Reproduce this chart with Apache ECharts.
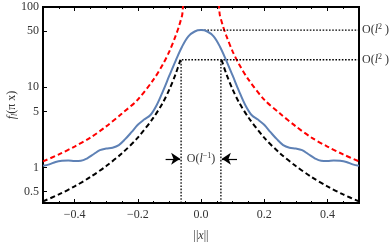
<!DOCTYPE html>
<html><head><meta charset="utf-8">
<script src="https://cdn.jsdelivr.net/npm/echarts@6/dist/echarts.min.js"></script>
<style>html,body{margin:0;padding:0;background:#fff}#c{width:390px;height:242px}</style>
</head><body><div id="c"></div>
<script>
// ---- data ----
const blueX = [-0.5,-0.48,-0.46,-0.44,-0.42,-0.40,-0.38,-0.36,-0.34,-0.32,-0.30,-0.28,-0.26,-0.24,-0.22,-0.20,-0.18,-0.16,-0.14,-0.12,-0.10,-0.08,-0.06,-0.04,-0.02,0,
  0.02,0.04,0.06,0.08,0.10,0.12,0.14,0.16,0.18,0.20,0.22,0.24,0.26,0.28,0.30,0.32,0.34,0.36,0.38,0.40,0.42,0.44,0.46,0.48,0.5];
const blueY = [1.05,1.09,1.17,1.21,1.22,1.2,1.21,1.3,1.46,1.64,1.72,1.76,1.9,2.25,2.75,3.4,3.95,4.5,6.0,9.0,14,21.5,32,43,49.5,51.5,
  49.5,43,32,21.5,14,9.0,6.0,4.5,3.95,3.4,2.75,2.25,1.9,1.76,1.72,1.64,1.46,1.3,1.21,1.2,1.22,1.21,1.17,1.09,1.05];
const redX = [-0.5,-0.45,-0.4,-0.35,-0.3,-0.25,-0.2,-0.15,-0.12,-0.1,-0.08,-0.07,-0.06,-0.05,
  0.05,0.06,0.07,0.08,0.1,0.12,0.15,0.2,0.25,0.3,0.35,0.4,0.45,0.5];
const redY = [1.19,1.45,1.82,2.35,3.25,4.7,7.0,12.5,19.5,28,44,57,78,112,
  112,78,57,44,28,19.5,12.5,7.0,4.7,3.25,2.35,1.82,1.45,1.19];
const blackLeftX = [-0.5,-0.45,-0.4,-0.35,-0.3,-0.25,-0.2,-0.15,-0.12,-0.1,-0.08,-0.065];
const blackLeftY = [0.377,0.46,0.58,0.76,1.04,1.5,2.35,4.2,6.5,9.4,14.7,22];
const blackRightX = [0.065,0.08,0.1,0.12,0.15,0.2,0.25,0.3,0.35,0.4,0.45,0.5];
const blackRightY = [22,14.7,9.4,6.5,4.2,2.35,1.5,1.04,0.76,0.58,0.46,0.377];
const peakLevel = 51.5;      // O(l^2) upper guide
const widthLevel = 22;       // O(l^2) lower guide
const widthHalf = 0.063;     // half width O(l^-1)
const arrowLevel = 1.28;
const arrowLeft = [-0.112, -0.066];
const arrowRight = [0.114, 0.066];
const xMin = -0.5, xMax = 0.5, yMin = 0.36, yMax = 100;
const xMajorTicks = [-0.4,-0.2,0,0.2,0.4];
const xMinorTicks = [-0.45,-0.35,-0.3,-0.25,-0.15,-0.1,-0.05,0.05,0.1,0.15,0.25,0.3,0.35,0.45];
const yTickLabels = [0.5,1,5,10,50,100];

const pairs = (xs, ys) => xs.map((x, i) => [x, ys[i]]);
const FONT = 'Liberation Serif';
const TXT = '#333';
const richBase = {
  n: {fontFamily: FONT, fontSize: 12, color: TXT, lineHeight: 14},
  i: {fontFamily: FONT, fontSize: 12, color: TXT, fontStyle: 'italic', lineHeight: 14},
  s: {fontFamily: FONT, fontSize: 8, color: TXT, verticalAlign: 'top', lineHeight: 14},
  sub: {fontFamily: FONT, fontSize: 8, color: TXT, fontStyle: 'italic', verticalAlign: 'bottom', lineHeight: 14}
};
const fmtX = v => (Math.round(v * 10) / 10).toFixed(1).replace('-', '\u2212');

function xAxisDef(pos, ticks, len, showLabel) {
  return {
    type: 'value', position: pos, min: xMin, max: xMax,
    axisLine: {show: false, onZero: false},
    splitLine: {show: false},
    axisTick: {show: true, inside: true, length: len, customValues: ticks, lineStyle: {color: '#000', width: 1}},
    axisLabel: {show: showLabel, customValues: ticks, formatter: fmtX, fontFamily: FONT, fontSize: 12, color: TXT, margin: 6},
  };
}

const GRID = {left: 43, right: 31, top: 7, bottom: 39};
const chart = echarts.init(document.getElementById('c'), null, {renderer: 'canvas'});
const dotted = {color: '#000', width: 1.3, type: [1.6, 1.6]};
chart.setOption({
  animation: false,
  grid: Object.assign({show: true, borderColor: '#000', borderWidth: 2, backgroundColor: 'transparent', outerBoundsMode: 'none', containLabel: false}, GRID),
  graphic: [{
    // y-axis title, centred on the plot height, rotated
    type: 'text', x: 12, y: GRID.top + (242 - GRID.top - GRID.bottom) / 2, rotation: Math.PI / 2, silent: true,
    style: {text: '{i|f}{sub|l}{n|(π x)}', rich: richBase, align: 'center', verticalAlign: 'middle', fill: TXT, fontFamily: FONT, fontSize: 12}
  }],
  xAxis: [
    Object.assign(xAxisDef('bottom', xMajorTicks, 4, true), {
      name: '{n|||}{i|x}{n|||}', nameLocation: 'middle', nameGap: 26, nameMoveOverlap: false,
      nameTextStyle: {rich: richBase, color: TXT, fontSize: 12, fontFamily: FONT}
    }),
    xAxisDef('bottom', xMinorTicks, 2, false),
    xAxisDef('top', xMajorTicks, 4, false),
    xAxisDef('top', xMinorTicks, 2, false)
  ],
  yAxis: {
    type: 'log', logBase: 10, min: yMin, max: yMax, position: 'left',
    axisLine: {show: false, onZero: false}, splitLine: {show: false}, minorTick: {show: false},
    axisTick: {show: true, inside: true, length: 4, customValues: yTickLabels, lineStyle: {color: '#000'}},
    axisLabel: {customValues: yTickLabels, formatter: v => String(Number(Number(v).toPrecision(6))), fontFamily: FONT, fontSize: 12, color: TXT, margin: 4}
  },
  series: [
    {type: 'line', data: pairs(redX, redY), showSymbol: false, smooth: 0.3, clip: true,
     lineStyle: {color: '#ff0000', width: 2, type: [5, 3]}},
    {type: 'line', data: pairs(blackLeftX, blackLeftY), showSymbol: false, smooth: 0.3, clip: true,
     lineStyle: {color: '#000', width: 2, type: [5, 3]}},
    {type: 'line', data: pairs(blackRightX, blackRightY), showSymbol: false, smooth: 0.3, clip: true,
     lineStyle: {color: '#000', width: 2, type: [5, 3]}},
    {type: 'line', data: [[0, peakLevel], [xMax, peakLevel]], showSymbol: false, lineStyle: dotted,
     endLabel: {show: true, distance: 3, formatter: '{n|O(}{i|l}{s|2}{n| )}', rich: richBase}},
    {type: 'line', data: [[-widthHalf, yMin], [-widthHalf, widthLevel], [xMax, widthLevel]], showSymbol: false, lineStyle: dotted,
     endLabel: {show: true, distance: 3, formatter: '{n|O(}{i|l}{s|2}{n| )}', rich: richBase}},
    {type: 'line', data: [[widthHalf, yMin], [widthHalf, widthLevel]], showSymbol: false, lineStyle: dotted,
     markLine: {silent: true, symbol: ['none', 'arrow'], symbolSize: 9, label: {show: false},
       lineStyle: {color: '#000', width: 1.2, type: 'solid'}, itemStyle: {color: '#000'},
       data: [
         [{coord: [arrowLeft[0], arrowLevel]}, {coord: [arrowLeft[1], arrowLevel]}],
         [{coord: [arrowRight[0], arrowLevel]}, {coord: [arrowRight[1], arrowLevel]}]
       ]},
     markPoint: {symbol: 'circle', symbolSize: 0, silent: true,
       label: {show: true, position: 'inside', formatter: '{n|O(}{i|l}{s|−1}{n|)}', rich: richBase},
       data: [{coord: [0, arrowLevel]}]}},
    {type: 'line', data: pairs(blueX, blueY), showSymbol: false, smooth: 0.35, clip: true,
     lineStyle: {color: '#5E81B5', width: 2}}
  ]
});
</script></body></html>
